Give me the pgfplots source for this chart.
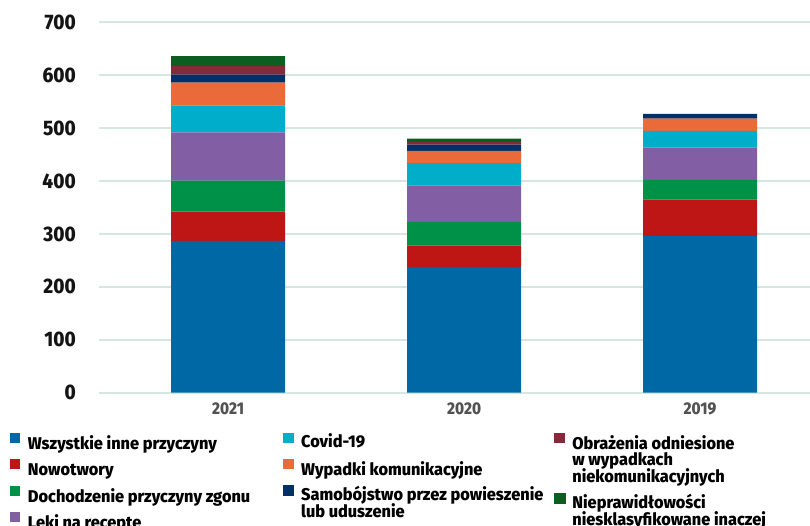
\documentclass[border=0pt]{standalone}
\usepackage{pgfplots}
\pgfplotsset{compat=1.18}
\usepackage{pgfplotstable}
\usepackage{fontspec}
\setmainfont{Fira Sans}
\newfontfamily\fira{Fira Sans}[FakeStretch=0.9, BoldFont={Fira Sans ExtraBold}]
\newfontfamily\firal{Fira Sans}[BoldFont={Fira Sans ExtraBold}, FakeStretch=0.96]
\newcommand\ytfont{\fira\bfseries\fontsize{21}{24}\selectfont}
\newcommand\xtfont{\fira\bfseries\fontsize{17}{20}\selectfont}
\newcommand\legfont{\firal\bfseries\fontsize{17}{16.5}\selectfont}
\definecolor{cBlue}{HTML}{0068A5}
\definecolor{cRed}{HTML}{BE1515}
\definecolor{cGreen}{HTML}{009148}
\definecolor{cPurple}{HTML}{825EA4}
\definecolor{cCyan}{HTML}{00AECA}
\definecolor{cOrange}{HTML}{EB6A3A}
\definecolor{cNavy}{HTML}{00306A}
\definecolor{cMaroon}{HTML}{842A3A}
\definecolor{cDkGreen}{HTML}{0B5E20}
\definecolor{gridc}{HTML}{D5E7E0}
\pgfplotstableread{
x blue red green purple cyan orange navy maroon dkgreen
0 287 55 59 91 51 43 15 16 19
1 238 40 45 69 42 23 12 5 6
2 296 69 37 61 32 23 9 0 0
}\data
\newcommand\cA[1]{\makebox[255pt][l]{#1}}
\newcommand\cB[1]{\makebox[253pt][l]{#1}}
\newcommand\ml[1]{\smash{\begin{tabular}[t]{@{}l@{}}#1\end{tabular}}}
\begin{document}
\begin{tikzpicture}
\begin{axis}[
  at={(99pt,132.3pt)}, anchor=south west,
  scale only axis, width=711pt, height=370.4pt,
  xmin=-0.547, xmax=2.466, ymin=0, ymax=700,
  ybar stacked, bar width=114pt,
  axis line style={draw=none},
  tick style={draw=none},
  ymajorgrids, major grid style={line width=2pt, color=gridc},
  ytick={0,100,...,700},
  xtick={0,1,2}, xticklabels={2021,2020,2019},
  major tick length=0pt,
  /pgf/number format/assume math mode=true,
  yticklabel style={font=\ytfont, inner sep=0pt, anchor=east, xshift=-23pt, text=black!92},
  xticklabel style={font=\xtfont, inner sep=0pt, anchor=north, yshift=-10pt, text=black!68},
  legend columns=3,
  legend cell align=left,
  legend style={at={(-0.1252,-0.1090)}, anchor=north west, draw=none, fill=none,
     inner sep=0pt, outer sep=0pt, /tikz/column sep=0pt, /tikz/row sep=5pt,
     nodes={inner sep=0pt, font=\legfont, text height=14pt, text depth=5pt}},
  legend image code/.code={\path[draw=none,fill=none] (0pt,0pt) rectangle (18pt,1pt); \fill[#1] (0pt,1.5pt) rectangle (10.5pt,11.5pt);},
]
\addplot[fill=cBlue, draw=none, forget plot] table[x=x, y=blue] {\data};
\addplot[fill=cRed, draw=none, forget plot] table[x=x, y=red] {\data};
\addplot[fill=cGreen, draw=none, forget plot] table[x=x, y=green] {\data};
\addplot[fill=cPurple, draw=none, forget plot] table[x=x, y=purple] {\data};
\addplot[fill=cCyan, draw=none, forget plot] table[x=x, y=cyan] {\data};
\addplot[fill=cOrange, draw=none, forget plot] table[x=x, y=orange] {\data};
\addplot[fill=cNavy, draw=none, forget plot] table[x=x, y=navy] {\data};
\addplot[fill=cMaroon, draw=none, forget plot] table[x=x, y=maroon] {\data};
\addplot[fill=cDkGreen, draw=none, forget plot] table[x=x, y=dkgreen] {\data};
% legend row 1
\addlegendimage{fill=cBlue, draw=none}\addlegendentry{\cA{Wszystkie inne przyczyny}}
\addlegendimage{fill=cCyan, draw=none}\addlegendentry{\cB{\raisebox{1.5pt}{Covid-19}}}
\addlegendimage{fill=cMaroon, draw=none}\addlegendentry{\ml{Obrażenia odniesione\\[-1.5pt]w wypadkach\\[-1.5pt]niekomunikacyjnych}}
% row 2
\addlegendimage{fill=cRed, draw=none}\addlegendentry{\cA{Nowotwory}}
\addlegendimage{fill=cOrange, draw=none}\addlegendentry{\cB{Wypadki komunikacyjne}}
\addlegendimage{empty legend}\addlegendentry{}
% row 3
\addlegendimage{fill=cGreen, draw=none}\addlegendentry{\cA{Dochodzenie przyczyny zgonu}}
\addlegendimage{legend image code/.code={\path[draw=none,fill=none] (0pt,0pt) rectangle (18pt,1pt); \fill[cNavy] (0pt,2.5pt) rectangle (10.5pt,12.5pt);}}\addlegendentry{\cB{\raisebox{1.5pt}{\ml{Samobójstwo przez powieszenie\\[-2pt]lub uduszenie}}}}
\addlegendimage{legend image code/.code={\path[draw=none,fill=none] (0pt,0pt) rectangle (18pt,1pt); \fill[cDkGreen] (0pt,-5pt) rectangle (10.5pt,5pt);}}\addlegendentry{\raisebox{-6pt}{\ml{Nieprawidłowości\\[-1.5pt]niesklasyfikowane inaczej}}}
% row 4
\addlegendimage{fill=cPurple, draw=none}\addlegendentry{\cA{Leki na recepte}}
\end{axis}
\pgfresetboundingbox
\useasboundingbox (0pt,0pt) rectangle (810pt,525pt);
\end{tikzpicture}
\end{document}
